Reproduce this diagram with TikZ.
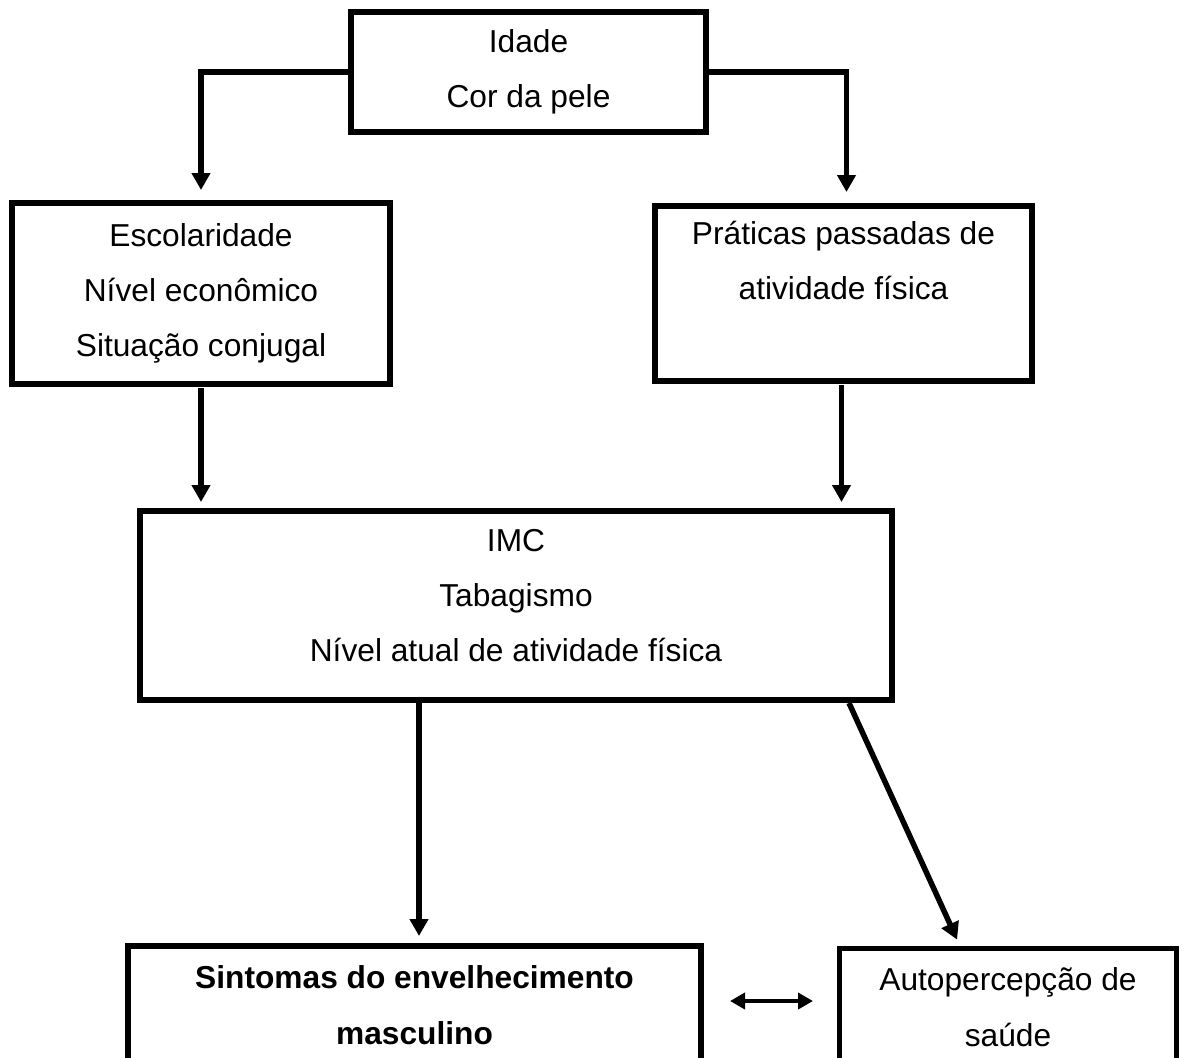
\documentclass[tikz,border=0pt]{standalone}
\usepackage{fontspec}
\setmainfont{Liberation Sans}
\usetikzlibrary{arrows.meta,calc}
\begin{document}
\begin{tikzpicture}[x=1pt,y=-1pt,
  box/.style={draw=black,line width=6pt,rectangle,align=center,inner sep=0pt,
    font=\fontsize{31.7}{55}\selectfont},
  conn/.style={draw=black,line width=5.5pt,-{Triangle[length=17pt,width=18pt]}},
  dconn/.style={draw=black,line width=4pt,{Triangle[length=15pt,width=16pt]}-{Triangle[length=15pt,width=16pt]}}]
\useasboundingbox (0,0) rectangle (1182,1057);
\clip (0,0) rectangle (1182,1057);
\fill[white] (0,0) rectangle (1182,1057);

\node[box,minimum width=355pt,minimum height=120pt] (top) at (528.5,72) {Idade\\Cor da pele};
\node[box,minimum width=378pt,minimum height=181pt] (esc) at (201,293.5) {Escolaridade\\Nível econômico\\Situação conjugal};
\node[box,minimum width=377pt,minimum height=175pt,text depth=67pt] (prat) at (843.5,293.5) {Práticas passadas de\\atividade física};
\node[box,minimum width=752pt,minimum height=189pt,text depth=21pt] (imc) at (516,605.5) {IMC\\Tabagismo\\Nível atual de atividade física};
\node[box,minimum width=573pt,minimum height=118pt,font=\fontsize{31.7}{56}\selectfont\bfseries] (sint) at (414.5,1005) {Sintomas do envelhecimento\\masculino};
\node[box,line width=5pt,minimum width=337pt,minimum height=118pt,font=\fontsize{31.7}{56}\selectfont] (auto) at (1008,1007.5) {Autopercepção de\\saúde};

\coordinate (dstart) at ([xshift=26pt,yshift=4pt]sint.east);
\draw[conn,shorten >=10pt] (top.west) -| (esc.north);
\draw[conn,shorten >=11pt] (top.east) -| ([xshift=3pt]prat.north);
\draw[conn,shorten <=1pt,shorten >=6pt] (esc.south) -- (esc.south |- imc.north);
\draw[conn,shorten <=1pt,shorten >=6pt] ([xshift=-2pt]prat.south) -- ([xshift=-2pt]prat.south |- imc.north);
\draw[conn,shorten >=7pt] ([xshift=-97pt]imc.south) -- ([xshift=-97pt]imc.south |- sint.north);
\draw[conn,shorten >=7pt] ([xshift=333pt]imc.south) -- ([xshift=-48pt]auto.north);
\draw[dconn,shorten >=24pt] (dstart) -- (dstart -| auto.west);
\end{tikzpicture}
\end{document}
